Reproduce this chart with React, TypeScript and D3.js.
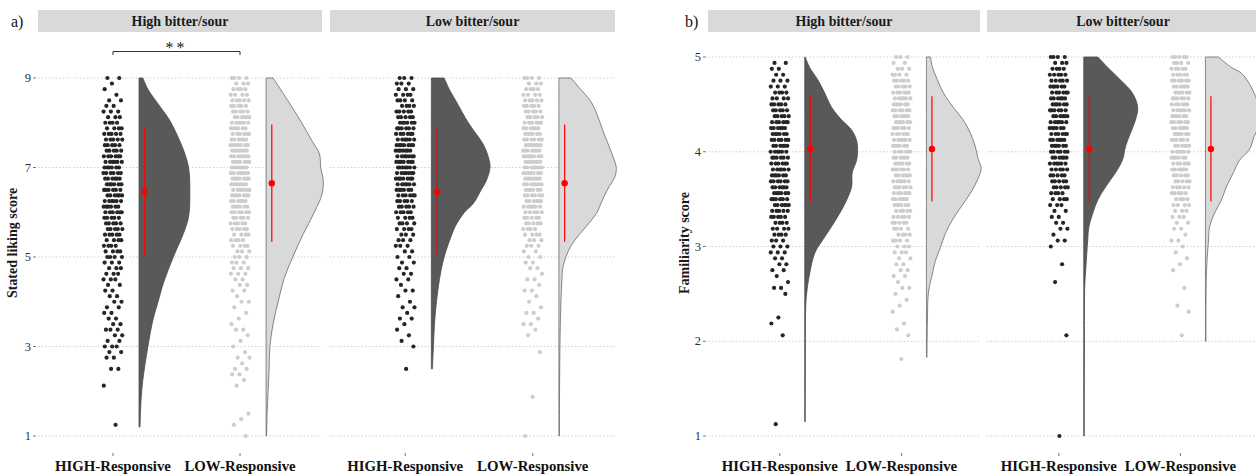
import React from 'react';
import * as d3 from 'd3';

const facetLabels = ['High bitter/sour', 'Low bitter/sour'];
const groupLabels = ['HIGH-Responsive', 'LOW-Responsive'];

// ---------- Panel a: Stated liking score ----------
const likingTicks = [1, 3, 5, 7, 9];
const likingTop = 9;
const likingStep = 0.125;
// counts of respondents per score level, from 9 down to 1
const likingHighBitterHighResp = [
  2, 1, 1, 1, 2, 2, 3, 3,
  4, 4, 5, 5, 5, 5, 6, 6,
  6, 6, 6, 6, 6, 6, 6, 6,
  6, 5, 5, 5, 5, 4, 4, 4,
  4, 3, 3, 3, 3, 2, 2, 2,
  2, 2, 2, 2, 2, 3, 2, 2,
  3, 2, 2, 0, 2, 0, 0, 1,
  0, 0, 0, 0, 0, 0, 1, 0,
  0];
const likingHighBitterLowResp = [
  4, 3, 4, 4, 5, 5, 5, 6,
  6, 6, 6, 6, 7, 7, 7, 7,
  7, 7, 7, 7, 7, 7, 6, 6,
  6, 5, 5, 5, 4, 4, 4, 3,
  3, 3, 3, 3, 2, 2, 2, 1,
  2, 1, 1, 1, 1, 2, 1, 1,
  1, 1, 2, 1, 2, 2, 1, 1,
  0, 0, 0, 0, 1, 1, 1, 0,
  1];
const likingLowBitterHighResp = [
  3, 3, 3, 4, 4, 4, 5, 5,
  6, 6, 6, 6, 7, 7, 7, 7,
  7, 7, 7, 6, 6, 6, 5, 5,
  5, 4, 4, 4, 3, 3, 3, 2,
  2, 2, 2, 2, 2, 1, 2, 1,
  1, 2, 1, 2, 1, 1, 1, 1,
  1, 0, 0, 0, 1, 0, 0, 0,
  0, 0, 0, 0, 0, 0, 0, 0,
  0];
const likingLowBitterLowResp = [
  4, 3, 4, 4, 5, 5, 5, 5,
  6, 6, 6, 6, 7, 7, 7, 7,
  7, 7, 7, 7, 6, 6, 6, 6,
  5, 5, 5, 4, 4, 3, 3, 2,
  2, 2, 2, 1, 2, 1, 2, 1,
  1, 1, 2, 1, 2, 1, 1, 0,
  0, 1, 0, 0, 0, 0, 0, 0,
  0, 1, 0, 0, 0, 0, 0, 0,
  1];
// [score, density]
const likingDensHighBitterHighResp: [number, number][] = [
  [9, 0.03], [8.75, 0.07], [8.5, 0.13], [8.06, 0.24], [7.6, 0.32], [7.39, 0.35], [7, 0.39],
  [6.4, 0.4], [5.9, 0.39], [5.53, 0.35], [5, 0.27], [4.4, 0.19], [4, 0.15], [3.6, 0.11],
  [3, 0.07], [2.25, 0.03], [1.8, 0.016], [1.2, 0.008]];
const likingDensHighBitterLowResp: [number, number][] = [
  [9, 0.055], [8.5, 0.17], [8, 0.28], [7.6, 0.36], [7.3, 0.42], [7, 0.43], [6.7, 0.45],
  [6.4, 0.44], [6, 0.38], [5.5, 0.29], [5, 0.21], [4.5, 0.14], [4, 0.095], [3.5, 0.055],
  [3, 0.03], [2.5, 0.024], [2, 0.016], [1.5, 0.008], [1, 0.004]];
const likingDensLowBitterHighResp: [number, number][] = [
  [9, 0.1], [8.75, 0.14], [8.5, 0.19], [8, 0.29], [7.5, 0.41], [7.2, 0.45], [7, 0.46],
  [6.7, 0.43], [6.5, 0.39], [6.2, 0.33], [6, 0.26], [5.7, 0.19], [5.5, 0.16], [5, 0.1],
  [4.5, 0.063], [4, 0.04], [3.5, 0.024], [3, 0.016], [2.5, 0.008]];
const likingDensLowBitterLowResp: [number, number][] = [
  [9, 0.095], [8.75, 0.17], [8.5, 0.245], [8.25, 0.29], [7.75, 0.355], [7.5, 0.39], [7.2, 0.43],
  [7, 0.45], [6.8, 0.44], [6.5, 0.38], [6.2, 0.33], [6, 0.3], [5.7, 0.22], [5.5, 0.16],
  [5.25, 0.095], [5, 0.055], [4.75, 0.03], [4.5, 0.024], [4, 0.016], [3, 0.008], [2, 0.005], [1, 0.004]];
const likingMean = [6.46, 6.65];
const likingSD = [1.42, 1.31];

// ---------- Panel b: Familiarity score ----------
const familiarityTicks = [1, 2, 3, 4, 5];
const familiarityTop = 5;
const familiarityStep = 0.0625;
const famHighBitterHighResp = [
  0, 2, 2, 2, 3, 3, 4, 4,
  5, 5, 5, 6, 6, 6, 6, 6,
  6, 6, 6, 6, 6, 6, 6, 6,
  6, 6, 5, 5, 4, 4, 4, 3,
  3, 3, 2, 2, 2, 1, 1, 2,
  1, 0, 0, 0, 1, 1, 0, 1,
  0, 0, 0, 0, 0, 0, 0, 0,
  0, 0, 0, 0, 0, 0, 1, 0,
  0];
const famHighBitterLowResp = [
  3, 2, 3, 4, 5, 5, 6, 6,
  6, 6, 6, 6, 6, 6, 6, 6,
  6, 6, 6, 6, 6, 6, 6, 6,
  6, 6, 5, 5, 5, 4, 4, 4,
  3, 3, 2, 2, 2, 2, 1, 2,
  1, 1, 1, 1, 0, 1, 1, 1,
  0, 0, 0, 1, 0, 0, 0, 0,
  0, 0, 0, 0, 0, 0, 0, 0,
  0];
const famLowBitterHighResp = [
  4, 3, 4, 5, 5, 6, 6, 6,
  6, 6, 6, 6, 6, 6, 6, 6,
  6, 6, 6, 5, 5, 5, 5, 4,
  4, 3, 2, 2, 2, 2, 1, 2,
  1, 0, 0, 1, 0, 0, 1, 0,
  0, 0, 0, 0, 0, 0, 0, 1,
  0, 0, 0, 0, 0, 0, 0, 0,
  0, 0, 0, 0, 0, 0, 0, 0,
  1];
const famLowBitterLowResp = [
  5, 4, 5, 5, 6, 6, 6, 6,
  6, 6, 6, 6, 6, 6, 6, 6,
  6, 6, 6, 6, 5, 5, 5, 5,
  4, 4, 3, 3, 2, 2, 1, 2,
  1, 1, 1, 1, 1, 0, 0, 1,
  0, 0, 1, 1, 0, 0, 0, 1,
  0, 0, 0, 0, 0, 0, 0, 0,
  0, 0, 0, 0, 0, 0, 0, 0,
  0];
const famDensHighBitterHighResp: [number, number][] = [
  [5, 0.004], [4.89, 0.04], [4.76, 0.107], [4.62, 0.164], [4.47, 0.22], [4.34, 0.3], [4.23, 0.385],
  [4.12, 0.426], [4.02, 0.434], [3.91, 0.426], [3.78, 0.39], [3.63, 0.385], [3.49, 0.344],
  [3.35, 0.287], [3.21, 0.22], [3.07, 0.148], [2.93, 0.082], [2.72, 0.041], [2.51, 0.016],
  [2.36, 0.008], [1.8, 0.005], [1.15, 0.004]];
const famDensHighBitterLowResp: [number, number][] = [
  [5, 0.033], [4.89, 0.05], [4.76, 0.09], [4.62, 0.14], [4.47, 0.22], [4.34, 0.3], [4.2, 0.36],
  [4.06, 0.4], [3.92, 0.426], [3.83, 0.45], [3.7, 0.418], [3.56, 0.36], [3.41, 0.28], [3.28, 0.213],
  [3.14, 0.156], [2.99, 0.115], [2.85, 0.074], [2.72, 0.05], [2.51, 0.016], [2.19, 0.008], [1.83, 0.004]];
const famDensLowBitterHighResp: [number, number][] = [
  [5, 0.115], [4.89, 0.197], [4.76, 0.3], [4.62, 0.4], [4.47, 0.443], [4.34, 0.426], [4.2, 0.385],
  [4.06, 0.344], [3.92, 0.32], [3.78, 0.262], [3.63, 0.18], [3.49, 0.115], [3.35, 0.074],
  [3.2, 0.041], [3.07, 0.033], [2.93, 0.025], [2.75, 0.016], [2.57, 0.008], [1.8, 0.005], [1, 0.004]];
const famDensLowBitterLowResp: [number, number][] = [
  [5, 0.107], [4.89, 0.213], [4.83, 0.295], [4.72, 0.36], [4.62, 0.4], [4.47, 0.443], [4.34, 0.46],
  [4.16, 0.4], [4.02, 0.36], [3.91, 0.28], [3.78, 0.23], [3.63, 0.172], [3.49, 0.131], [3.35, 0.074],
  [3.2, 0.033], [3.07, 0.025], [2.72, 0.008], [2, 0.004]];
const familiarityMean = [4.03, 4.03];
const familiaritySD = [0.565, 0.555];

// ---------- styling ----------
const FONT = "'Liberation Serif', 'Times New Roman', 'DejaVu Serif', serif";
const pointFill = ['#262626', '#cdcdcd'];
const violinFill = ['#595959', '#d9d9d9'];
const violinStroke = ['#4a4a4a', '#6a6a6a'];

type PanelCfg = {
  tag: string; tagX: number; title: string; titleX: number;
  ticks: number[]; domain: [number, number]; yRange: [number, number];
  facetX: number[]; facetW: number[];
  counts: number[][][]; dens: [number, number][][][];
  top: number; step: number; mean: number[]; sd: number[]; bracket: boolean;
};

const panels: PanelCfg[] = [
  {
    tag: 'a)', tagX: 11, title: 'Stated liking score', titleX: 17,
    ticks: likingTicks, domain: [1, 9], yRange: [436, 78],
    facetX: [38, 330], facetW: [284, 285],
    counts: [[likingHighBitterHighResp, likingHighBitterLowResp], [likingLowBitterHighResp, likingLowBitterLowResp]],
    dens: [[likingDensHighBitterHighResp, likingDensHighBitterLowResp], [likingDensLowBitterHighResp, likingDensLowBitterLowResp]],
    top: likingTop, step: likingStep, mean: likingMean, sd: likingSD, bracket: true,
  },
  {
    tag: 'b)', tagX: 685, title: 'Familiarity score', titleX: 689,
    ticks: familiarityTicks, domain: [1, 5], yRange: [436, 57],
    facetX: [708, 987], facetW: [272, 272],
    counts: [[famHighBitterHighResp, famHighBitterLowResp], [famLowBitterHighResp, famLowBitterLowResp]],
    dens: [[famDensHighBitterHighResp, famDensHighBitterLowResp], [famDensLowBitterHighResp, famDensLowBitterLowResp]],
    top: familiarityTop, step: familiarityStep, mean: familiarityMean, sd: familiaritySD, bracket: false,
  },
];

function buildPoints(counts: number[], top: number, step: number) {
  const pts: { v: number; j: number }[] = [];
  let g = 0;
  counts.forEach((n, i) => {
    const v = top - i * step;
    for (let k = 0; k < n; k++) {
      const f = (g * 0.6180339887 + 0.21) % 1;
      pts.push({ v, j: f - 0.5 });
      g++;
    }
  });
  return pts;
}

function Panel({ cfg }: { cfg: PanelCfg }) {
  const y = d3.scaleLinear().domain(cfg.domain).range(cfg.yRange);
  const midY = 243;
  return (
    <g>
      <text x={cfg.tagX} y={27} fontFamily={FONT} fontSize={16} fill="#111">{cfg.tag}</text>
      <text transform={`translate(${cfg.titleX},${midY}) rotate(-90)`} textAnchor="middle"
        fontFamily={FONT} fontSize={14} fontWeight="bold" fill="#1a1a1a">{cfg.title}</text>
      {cfg.ticks.map(t => (
        <g key={t}>
          <line x1={cfg.facetX[0] - 5} x2={cfg.facetX[0] - 2} y1={y(t)} y2={y(t)} stroke="#555" strokeWidth={0.8} />
          <text x={cfg.facetX[0] - 7} y={y(t) + 4} textAnchor="end" fontFamily={FONT} fontSize={12.5} fill="#2d2d3a">{t}</text>
        </g>
      ))}
      {cfg.facetX.map((fx, fi) => {
        const fw = cfg.facetW[fi];
        const x = d3.scaleLinear().domain([0.41, 2.645]).range([fx, fx + fw]);
        return (
          <g key={fi}>
            <rect x={fx} y={10} width={fw} height={22} fill="#d9d9d9" />
            <text x={fx + fw / 2} y={25.5} textAnchor="middle" fontFamily={FONT} fontSize={14}
              fontWeight="bold" fill="#1a1a1a">{facetLabels[fi]}</text>
            {cfg.ticks.map(t => (
              <line key={t} x1={fx} x2={fx + fw} y1={y(t)} y2={y(t)} stroke="#d0d0d0"
                strokeWidth={1} strokeDasharray="1.5,2" />
            ))}
            {groupLabels.map((gl, gi) => {
              const pos = gi + 1;
              const pts = buildPoints(cfg.counts[fi][gi], cfg.top, cfg.step);
              const base = pos + 0.205;
              const area = d3.area<[number, number]>()
                .y(d => y(d[0]))
                .x0(() => x(base))
                .x1(d => x(base + d[1]))
                .curve(d3.curveCatmullRom.alpha(0.5));
              const m = cfg.mean[gi], s = cfg.sd[gi];
              const mx = x(pos + 0.25);
              return (
                <g key={gi}>
                  {pts.map((p, k) => (
                    <circle key={k} cx={x(pos + p.j * 0.15)} cy={y(p.v)} r={2.1} fill={pointFill[gi]} />
                  ))}
                  <path d={area(cfg.dens[fi][gi]) || ''} fill={violinFill[gi]} stroke={violinStroke[gi]} strokeWidth={0.8} />
                  <line x1={mx} x2={mx} y1={y(m + s)} y2={y(m - s)} stroke="#ff0000" strokeWidth={1.2} />
                  <circle cx={mx} cy={y(m)} r={3.2} fill="#ff0000" />
                  <line x1={x(pos)} x2={x(pos)} y1={453} y2={456} stroke="#555" strokeWidth={0.8} />
                  <text x={x(pos)} y={471} textAnchor="middle" fontFamily={FONT} fontSize={14.8}
                    fontWeight="bold" fill="#111">{gl}</text>
                </g>
              );
            })}
            {cfg.bracket && fi === 0 && (
              <g>
                <path d={`M${x(1)},55 V51.5 H${x(2)} V55`} fill="none" stroke="#333" strokeWidth={1} />
                <text x={(x(1) + x(2)) / 2} y={53} textAnchor="middle" fontFamily={FONT} fontSize={16}
                  letterSpacing={3} fill="#222">**</text>
              </g>
            )}
          </g>
        );
      })}
    </g>
  );
}

export default function App() {
  return (
    <svg width={1256} height={474} style={{ position: 'absolute', left: 0, top: 0, background: '#fff' }}>
      <rect width={1256} height={474} fill="#fff" />
      {panels.map((p, i) => <Panel key={i} cfg={p} />)}
    </svg>
  );
}
